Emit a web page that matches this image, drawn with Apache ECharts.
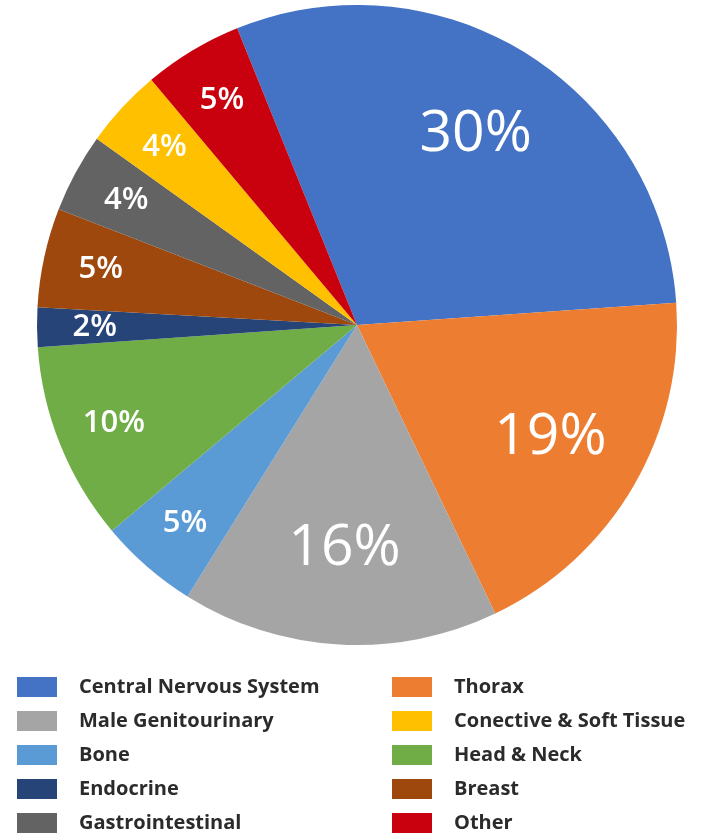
<!DOCTYPE html>
<html>
<head>
<meta charset="utf-8">
<script src="https://cdn.jsdelivr.net/npm/echarts@6/dist/echarts.min.js"></script>
<style>
  html, body { margin: 0; padding: 0; background: #ffffff; }
  #chart { width: 717px; height: 836px; }
</style>
</head>
<body>
<div id="chart"></div>
<script>
// Tumour sites, clockwise from the top
const categories = [
  'Central Nervous System', 'Thorax', 'Male Genitourinary', 'Bone', 'Head & Neck',
  'Endocrine', 'Breast', 'Gastrointestinal', 'Conective & Soft Tissue', 'Other'
];
// Share of cases, percent
const shares = [30, 19, 16, 5, 10, 2, 5, 4, 4, 5];
const sliceColors = [
  '#4472C4', '#ED7D31', '#A5A5A5', '#5B9BD5', '#70AD47',
  '#264478', '#9E480E', '#636363', '#FFC000', '#C9000E'
];
// Legend columns
const legendLeft = ['Central Nervous System', 'Male Genitourinary', 'Bone', 'Endocrine', 'Gastrointestinal'];
const legendRight = ['Thorax', 'Conective & Soft Tissue', 'Head & Neck', 'Breast', 'Other'];
// Slices whose percentage is written in the large type
const largeLabels = ['Central Nervous System', 'Thorax', 'Male Genitourinary'];

const FONT = '"Open Sans", "Noto Sans", sans-serif';
const CENTER = [357, 325];
const R = 320;
const START = 112;

const chart = echarts.init(document.getElementById('chart'), null, { renderer: 'canvas' });

const mainData = categories.map((name, i) => ({
  name, value: shares[i], itemStyle: { color: sliceColors[i] }
}));

// Transparent ring whose mid-radius sets where the percentage sits
function labelRing(innerRatio, pick, fontSize, weight) {
  return {
    type: 'pie',
    center: CENTER,
    radius: [R * innerRatio, R],
    startAngle: START,
    clockwise: true,
    silent: true,
    avoidLabelOverlap: false,
    itemStyle: { color: 'transparent', borderWidth: 0 },
    label: {
      position: 'inside',
      formatter: '{c}%',
      color: '#ffffff',
      fontFamily: FONT,
      fontSize: fontSize,
      fontWeight: weight
    },
    labelLine: { show: false },
    emphasis: { disabled: true },
    data: categories.map((name, i) => ({
      name, value: shares[i], label: { show: pick(name) }
    }))
  };
}

const legendCommon = {
  orient: 'vertical',
  top: 677,
  padding: 0,
  itemWidth: 40,
  itemHeight: 20,
  itemGap: 14,
  icon: 'rect',
  selectedMode: false,
  textStyle: {
    fontFamily: FONT,
    fontSize: 20,
    fontWeight: 700,
    color: '#2b2b2b',
    padding: [0, 0, 0, 17]
  }
};

chart.setOption({
  backgroundColor: '#ffffff',
  animation: false,
  legend: [
    Object.assign({}, legendCommon, { left: 17, data: legendLeft }),
    Object.assign({}, legendCommon, { left: 392, data: legendRight })
  ],
  series: [
    {
      type: 'pie',
      center: CENTER,
      radius: R,
      startAngle: START,
      clockwise: true,
      avoidLabelOverlap: false,
      itemStyle: { borderWidth: 0 },
      label: { show: false },
      labelLine: { show: false },
      emphasis: { disabled: true },
      data: mainData
    },
    labelRing(0.38, n => largeLabels.includes(n), 57, 400),
    labelRing(0.62, n => !largeLabels.includes(n), 31, 600)
  ]
});
</script>
</body>
</html>
